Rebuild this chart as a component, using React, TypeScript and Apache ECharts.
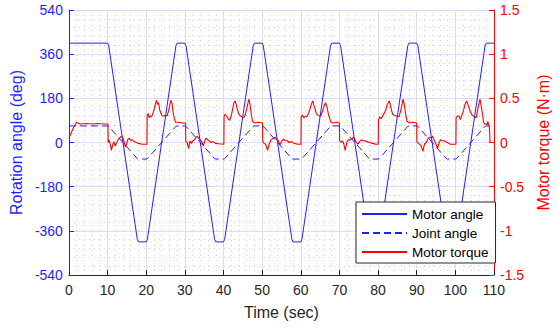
import React, { useEffect, useRef } from "react";
import * as echarts from "echarts";

// ---- Data ----
const motorTime = [0, 10, 10.3, 17.7, 18, 20, 20.3, 27.7, 28, 30, 30.3, 37.7, 38, 40, 40.3, 47.7, 48, 50, 50.3, 57.7, 58, 60, 60.3, 67.7, 68, 70, 70.3, 77.7, 78, 80, 80.3, 87.7, 88, 90, 90.3, 97.7, 98, 100, 100.3, 107.7, 108, 110];
const motorAngle = [405, 405, 395, -395, -405, -405, -395, 395, 405, 405, 395, -395, -405, -405, -395, 395, 405, 405, 395, -395, -405, -405, -395, 395, 405, 405, 395, -395, -405, -405, -395, 395, 405, 405, 395, -395, -405, -405, -395, 395, 405, 405];
const jointTime = [0, 10, 10.3, 17.7, 18, 20, 20.3, 27.7, 28, 30, 30.3, 37.7, 38, 40, 40.3, 47.7, 48, 50, 50.3, 57.7, 58, 60, 60.3, 67.7, 68, 70, 70.3, 77.7, 78, 80, 80.3, 87.7, 88, 90, 90.3, 97.7, 98, 100, 100.3, 107.7, 108, 110];
const jointAngle = [67.5, 67.5, 66, -66, -67.5, -67.5, -66, 66, 67.5, 67.5, 66, -66, -67.5, -67.5, -66, 66, 67.5, 67.5, 66, -66, -67.5, -67.5, -66, 66, 67.5, 67.5, 66, -66, -67.5, -67.5, -66, 66, 67.5, 67.5, 66, -66, -67.5, -67.5, -66, 66, 67.5, 67.5];

const torqueStart: [number, number][] = [
  [0, 0.05], [0.4, 0.09], [0.8, 0.13], [1.2, 0.17], [1.6, 0.2], [2.0, 0.23], [2.3, 0.22], [3, 0.21], [4.5, 0.215], [6, 0.21], [7.5, 0.215], [9, 0.21], [10.1, 0.21],
];
const torqueA1: [number, number][] = [
  [10.15, 0.0], [10.4, 0.03], [10.7, -0.02], [11.0, -0.09], [11.3, -0.03], [11.6, 0.01], [12.0, -0.04], [12.3, -0.01], [12.7, 0.03], [13.1, 0.05], [13.5, 0.07], [13.9, 0.06], [14.2, 0.02], [14.6, -0.05], [14.9, -0.02], [15.2, 0.03], [15.6, 0.05], [16.0, 0.02], [16.4, 0.03], [16.9, 0.01], [17.4, 0.0], [18.0, -0.01], [19.0, -0.02], [20.2, -0.02],
];
const torqueB1: [number, number][] = [
  [20.25, 0.3], [20.5, 0.33], [20.8, 0.28], [21.1, 0.3], [21.4, 0.29], [21.8, 0.34], [22.1, 0.38], [22.4, 0.44], [22.7, 0.48], [22.9, 0.43], [23.2, 0.45], [23.5, 0.37], [23.8, 0.33], [24.2, 0.3], [24.6, 0.3], [25.0, 0.31], [25.4, 0.3], [25.8, 0.36], [26.1, 0.42], [26.4, 0.48], [26.7, 0.44], [27.0, 0.33], [27.3, 0.27], [27.6, 0.23], [28.5, 0.23], [29.3, 0.22], [30.2, 0.22],
];
const torqueA2: [number, number][] = [
  [30.25, 0.01], [30.6, 0.0], [31.0, -0.07], [31.3, 0.02], [31.7, -0.01], [32.1, 0.02], [32.5, 0.03], [32.9, 0.06], [33.2, 0.07], [33.6, 0.05], [34.0, 0.03], [34.4, 0.01], [34.8, -0.04], [35.1, 0.01], [35.5, 0.05], [35.9, 0.03], [36.3, 0.02], [36.8, 0.0], [37.3, 0.01], [37.9, -0.01], [38.8, -0.015], [40.1, -0.02],
];
const torqueB2: [number, number][] = [
  [40.15, 0.3], [40.4, 0.32], [40.8, 0.3], [41.2, 0.27], [41.6, 0.25], [42.0, 0.3], [42.3, 0.36], [42.7, 0.45], [43.0, 0.47], [43.3, 0.43], [43.6, 0.37], [44.0, 0.32], [44.4, 0.3], [44.8, 0.29], [45.2, 0.28], [45.6, 0.31], [46.0, 0.38], [46.3, 0.44], [46.6, 0.49], [46.9, 0.42], [47.2, 0.32], [47.5, 0.24], [48.0, 0.22], [49.0, 0.23], [50.1, 0.22],
];
const torqueA3: [number, number][] = [
  [50.15, 0.02], [50.5, -0.01], [50.9, -0.02], [51.4, -0.09], [51.8, -0.02], [52.2, 0.02], [52.6, 0.04], [53.0, 0.05], [53.4, 0.06], [53.8, 0.03], [54.2, 0.02], [54.6, -0.03], [55.0, 0.01], [55.5, 0.04], [56.0, 0.02], [56.5, 0.02], [57.0, 0.0], [57.6, 0.01], [58.3, -0.01], [59.2, -0.02], [60.05, -0.02],
];
const torqueB3: [number, number][] = [
  [60.1, 0.29], [60.4, 0.31], [60.8, 0.28], [61.2, 0.3], [61.6, 0.29], [62.0, 0.33], [62.4, 0.38], [62.8, 0.44], [63.1, 0.47], [63.4, 0.42], [63.7, 0.38], [64.0, 0.33], [64.4, 0.31], [64.8, 0.3], [65.2, 0.3], [65.6, 0.35], [66.0, 0.41], [66.4, 0.45], [66.8, 0.4], [67.2, 0.31], [67.8, 0.23], [68.5, 0.22], [69.2, 0.23], [70.0, 0.22],
];
const torqueA4: [number, number][] = [
  [70.05, 0.02], [70.4, 0.0], [70.7, 0.02], [71.1, -0.01], [71.5, -0.09], [71.9, 0.0], [72.3, 0.03], [72.8, 0.03], [73.2, 0.04], [73.6, 0.06], [74.0, 0.03], [74.4, 0.0], [74.8, -0.02], [75.2, 0.01], [75.7, 0.03], [76.1, 0.02], [76.5, 0.02], [77.1, 0.01], [77.8, 0.0], [78.6, -0.01], [79.4, -0.02], [80.05, -0.02],
];
const torqueB4: [number, number][] = [
  [80.1, 0.25], [80.4, 0.29], [80.8, 0.27], [81.2, 0.3], [81.6, 0.33], [82.0, 0.37], [82.4, 0.43], [82.9, 0.47], [83.2, 0.42], [83.5, 0.36], [83.8, 0.32], [84.2, 0.31], [84.6, 0.3], [85.0, 0.3], [85.4, 0.29], [85.8, 0.35], [86.2, 0.43], [86.5, 0.49], [86.8, 0.43], [87.1, 0.33], [87.5, 0.24], [88.2, 0.22], [89.0, 0.23], [90.0, 0.22],
];
const torqueA5: [number, number][] = [
  [90.05, 0.01], [90.4, -0.01], [90.8, -0.02], [91.2, -0.04], [91.6, -0.1], [92.0, -0.02], [92.5, 0.0], [92.9, 0.04], [93.3, 0.06], [93.7, 0.05], [94.1, 0.07], [94.6, 0.02], [95.0, -0.02], [95.4, -0.07], [95.8, 0.0], [96.2, 0.03], [96.7, 0.02], [97.1, 0.02], [97.9, 0.0], [98.7, -0.02], [99.5, -0.02], [100.15, -0.02],
];
const torqueB5: [number, number][] = [
  [100.2, 0.28], [100.5, 0.3], [100.9, 0.3], [101.3, 0.26], [101.7, 0.31], [102.1, 0.36], [102.5, 0.43], [102.9, 0.47], [103.2, 0.44], [103.5, 0.4], [103.8, 0.36], [104.2, 0.32], [104.6, 0.3], [105.0, 0.29], [105.4, 0.28], [105.9, 0.4], [106.4, 0.49], [106.9, 0.36], [107.3, 0.23], [107.6, 0.21], [107.9, 0.21], [108.2, 0.2], [108.4, 0.24], [108.8, 0.17], [109.0, 0.0], [110, 0.0],
];
const torqueSegments = [torqueStart, torqueA1, torqueB1, torqueA2, torqueB2, torqueA3, torqueB3, torqueA4, torqueB4, torqueA5, torqueB5];

const xTicks = { min: 0, max: 110, interval: 10 };
const leftTicks = { min: -540, max: 540, interval: 180 };
const rightTicks = { min: -1.5, max: 1.5, interval: 0.5 };

const BLUE = "#1f1fff";
const RED = "#ff0000";
const DARK = "#262626";
const FONT = "'Liberation Sans', Arial, Helvetica, sans-serif";

export default function App() {
  const ref = useRef<HTMLDivElement>(null);
  useEffect(() => {
    if (!ref.current) return;
    const chart = echarts.init(ref.current, undefined, { renderer: "svg" });
    const motorData = motorTime.map((t, i) => [t, motorAngle[i]]);
    const jointData = jointTime.map((t, i) => [t, jointAngle[i]]);
    const torqueData = torqueSegments.flat();

    chart.setOption({
      animation: false,
      backgroundColor: "#ffffff",
      textStyle: { fontFamily: FONT },
      grid: { left: 66, right: 54, top: 10, bottom: 53, containLabel: false },
      legend: {
        orient: "vertical",
        left: 356,
        top: 202,
        padding: [5, 7, 4, 5],
        itemWidth: 45,
        itemHeight: 14,
        itemGap: 5,
        borderColor: DARK,
        borderWidth: 1,
        borderRadius: 0,
        backgroundColor: "#ffffff",
        itemStyle: { opacity: 0 },
        textStyle: { fontSize: 13.5, color: "#000000", fontFamily: FONT },
        data: ["Motor angle", "Joint angle", "Motor torque"],
      },
      xAxis: {
        type: "value",
        min: xTicks.min,
        max: xTicks.max,
        interval: xTicks.interval,
        name: "Time (sec)",
        nameLocation: "middle",
        nameGap: 29,
        nameTextStyle: { fontSize: 16, color: DARK, fontFamily: FONT },
        axisLine: { onZero: false, lineStyle: { color: DARK, width: 1 } },
        axisTick: { inside: true, length: 5, lineStyle: { color: DARK } },
        axisLabel: { margin: 8, fontSize: 14, color: DARK, fontFamily: FONT },
        splitLine: { show: true, lineStyle: { color: "#dedede", width: 1 } },
        minorTick: { show: false, splitNumber: 5 },
        minorSplitLine: { show: true, lineStyle: { color: "#d2d2d2", type: [1, 4], width: 1 } },
      },
      yAxis: [
        {
          type: "value",
          position: "left",
          min: leftTicks.min,
          max: leftTicks.max,
          interval: leftTicks.interval,
          name: "Rotation angle (deg)",
          nameLocation: "middle",
          nameRotate: 90,
          nameGap: 42,
          nameTextStyle: { fontSize: 16, color: BLUE, fontFamily: FONT },
          axisLine: { show: true, onZero: false, lineStyle: { color: BLUE, width: 1 } },
          axisTick: { show: true, inside: true, length: 5, lineStyle: { color: BLUE } },
          axisLabel: { margin: 6, fontSize: 14, color: BLUE, fontFamily: FONT },
          splitLine: { show: true, lineStyle: { color: "#dcdcf6", width: 1 } },
          minorTick: { show: false, splitNumber: 5 },
          minorSplitLine: { show: true, lineStyle: { color: "#d0d0e6", type: [1, 4], width: 1 } },
        },
        {
          type: "value",
          position: "right",
          min: rightTicks.min,
          max: rightTicks.max,
          interval: rightTicks.interval,
          name: "Motor torque (N·m)",
          nameLocation: "middle",
          nameRotate: 90,
          nameGap: 40,
          nameTextStyle: { fontSize: 16, color: RED, fontFamily: FONT },
          axisLine: { show: true, onZero: false, lineStyle: { color: RED, width: 1 } },
          axisTick: { show: true, inside: true, length: 5, lineStyle: { color: RED } },
          axisLabel: { margin: 6, fontSize: 14, color: RED, fontFamily: FONT },
          splitLine: { show: false },
        },
      ],
      series: [
        {
          name: "Motor angle",
          type: "line",
          yAxisIndex: 0,
          data: motorData,
          showSymbol: false,
          symbol: "none",
          lineStyle: { color: BLUE, width: 1 },
          itemStyle: { color: BLUE },
          z: 3,
        },
        {
          name: "Joint angle",
          type: "line",
          yAxisIndex: 0,
          data: jointData,
          showSymbol: false,
          symbol: "none",
          lineStyle: { color: BLUE, width: 1, type: [7, 4] },
          itemStyle: { color: BLUE },
          z: 3,
        },
        {
          name: "Motor torque",
          type: "line",
          yAxisIndex: 1,
          data: torqueData,
          showSymbol: false,
          symbol: "none",
          lineStyle: { color: RED, width: 1.1 },
          itemStyle: { color: RED },
          z: 4,
        },
      ],
    });
    return () => chart.dispose();
  }, []);
  return (
    <div
      ref={ref}
      style={{ position: "fixed", left: 0, top: 0, width: 559, height: 328, background: "#fff" }}
    />
  );
}
